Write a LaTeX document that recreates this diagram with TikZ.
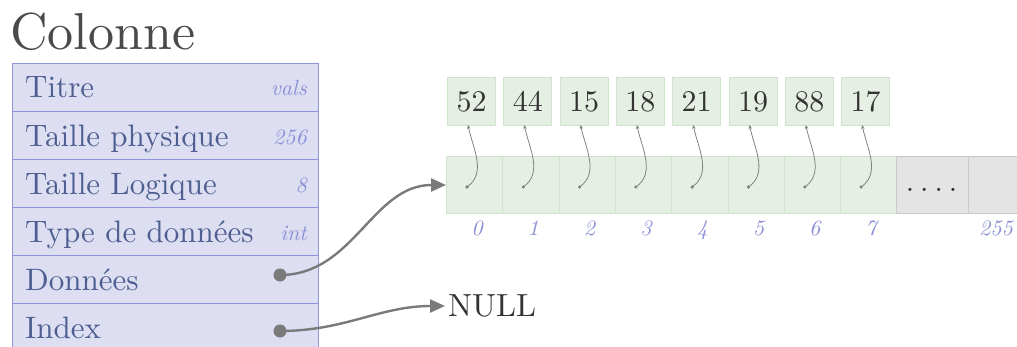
\documentclass[tikz,border=0pt]{standalone}
\usepackage{fontspec}
\setmainfont{lmroman10-regular.otf}[ItalicFont=lmroman10-italic.otf]
\usetikzlibrary{arrows.meta}
\definecolor{tabfill}{RGB}{221,222,242}
\definecolor{tabdraw}{RGB}{143,149,216}
\definecolor{rowtext}{RGB}{78,94,144}
\definecolor{valtext}{RGB}{138,143,214}
\definecolor{cellfill}{RGB}{230,239,227}
\definecolor{celldraw}{RGB}{207,229,203}
\definecolor{grayfill}{RGB}{228,228,228}
\definecolor{graydraw}{RGB}{201,201,201}
\definecolor{arrowc}{RGB}{122,122,122}
\definecolor{ptrc}{RGB}{130,130,130}
\definecolor{darktext}{RGB}{51,51,51}
\definecolor{titlec}{RGB}{74,74,74}
\tikzset{
  rowbox/.style={draw=tabdraw, fill=tabfill, line width=1.2pt, minimum width=306pt, minimum height=48pt, anchor=north west, inner sep=0pt},
  rowlabel/.style={anchor=base west, inner sep=0pt, text=rowtext, font=\fontsize{31}{36}\selectfont},
  rowval/.style={anchor=base east, inner sep=0pt, text=valtext, font=\fontsize{22}{26}\selectfont\itshape},
  cell/.style={draw=celldraw, fill=cellfill, line width=1pt, minimum width=56.3pt, minimum height=57pt, anchor=north west, inner sep=0pt},
  graycell/.style={draw=graydraw, fill=grayfill, line width=1.2pt, minimum height=57pt, anchor=north west, inner sep=0pt},
  vbox/.style={draw=celldraw, fill=cellfill, line width=1pt, minimum size=48pt, anchor=north west, inner sep=0pt, text=darktext, font=\fontsize{30}{36}\selectfont},
  idx/.style={anchor=base, inner sep=0pt, text=valtext, font=\fontsize{22}{26}\selectfont\itshape},
  ptr/.style={draw=ptrc, line width=0.8pt, -{Stealth[length=4pt,width=3.5pt]}},
  bigdot/.style={circle, fill=arrowc, minimum size=13pt, inner sep=0pt},
  bigarrow/.style={draw=arrowc, line width=2.4pt, -{Triangle[length=15pt,width=13pt]}}
}
\begin{document}
\begin{tikzpicture}[x=1pt,y=1pt]
\useasboundingbox (0,0) rectangle (1017,346);
\node[anchor=base west, inner sep=0pt, text=titlec, font=\fontsize{52}{60}\selectfont] (title) at (10,296) {Colonne};
% table rows
\node[rowbox] (r0) at (12,283) {};
\node[rowbox] (r1) at (12,235) {};
\node[rowbox] (r2) at (12,187) {};
\node[rowbox] (r3) at (12,139) {};
\node[rowbox] (r4) at (12,91) {};
\node[rowbox] (r5) at (12,43) {};
\node[rowlabel] (l0) at (25,248) {Titre};
\node[rowlabel] (l1) at (25,200) {Taille physique};
\node[rowlabel] (l2) at (25,152) {Taille Logique};
\node[rowlabel] (l3) at (25,104) {Type de données};
\node[rowlabel] (l4) at (25,56) {Données};
\node[rowlabel] (l5) at (25,8) {Index};
\node[rowval] (w0) at (307,250) {vals};
\node[rowval] (w1) at (307,202) {256};
\node[rowval] (w2) at (307,154) {8};
\node[rowval] (w3) at (307,106) {int};
% array
\foreach \v [count=\i from 0] in {52,44,15,18,21,19,88,17} {
  \pgfmathsetmacro\xx{446+56.3*\i}
  \node[cell] (c\i) at (\xx,190) {};
  \node[vbox] (v\i) at (\xx+1,269) {\v};
  \node[idx] (n\i) at (\xx+31,111) {\i};
  \coordinate (p\i) at (\xx+21,159);
  \coordinate (t\i) at (\xx+22,221);
  \fill[ptrc] (p\i) circle (1.8);
  \draw[ptr] (p\i) to[out=35,in=-78] (t\i);
}
\node[graycell, minimum width=72pt] (g0) at (896,190) {};
\node[graycell, minimum width=80pt] (g1) at (968,190) {};
\node[anchor=base, inner sep=0pt, text=darktext, font=\fontsize{30}{36}\selectfont] (dots) at (931.5,155) {.\kern6pt.\kern6pt.\kern6pt.};
\node[idx, anchor=base east] (n255) at (1013,111) {255};
% pointers
\node[bigdot] (dd) at (280,71) {};
\node[bigdot] (di) at (280,15) {};
\node[anchor=west, inner sep=3pt, text=darktext, font=\fontsize{32}{40}\selectfont] (null) at (445,40) {NULL};
\draw[bigarrow] (dd.center) to[out=0,in=180] (c0.west);
\draw[bigarrow] (di.center) to[out=0,in=180] (null.west);
\end{tikzpicture}
\end{document}
